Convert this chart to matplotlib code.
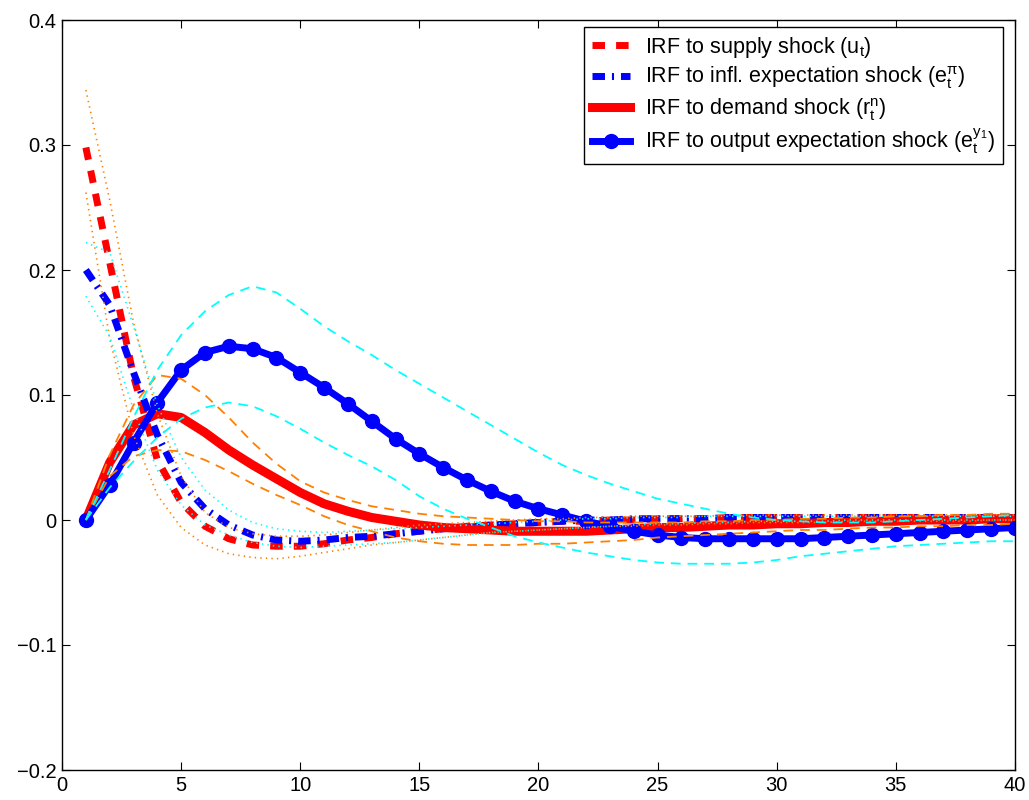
import numpy as np
import matplotlib
matplotlib.use("Agg")
import matplotlib.pyplot as plt

# -----------------------------
# Data
# -----------------------------
periods = np.arange(1, 41)

supply = [0.298, 0.206, 0.115, 0.048, 0.014, -0.005, -0.015, -0.020, -0.021, -0.021,
          -0.019, -0.016, -0.014, -0.011, -0.009, -0.007, -0.005, -0.004, -0.003, -0.002,
          -0.001, -0.001, 0.000, 0.000, 0.001, 0.001, 0.001, 0.002, 0.002, 0.002,
          0.002, 0.002, 0.002, 0.002, 0.002, 0.002, 0.002, 0.002, 0.002, 0.002]
supply_hi = [0.344, 0.256, 0.158, 0.085, 0.035, 0.006, -0.006, -0.011, -0.013, -0.013,
             -0.012, -0.010, -0.008, -0.006, -0.004, -0.003, -0.002, -0.001, 0.000, 0.001,
             0.001, 0.002, 0.002, 0.003, 0.003, 0.003, 0.003, 0.004, 0.004, 0.004,
             0.004, 0.004, 0.004, 0.004, 0.004, 0.004, 0.004, 0.004, 0.004, 0.004]
supply_lo = [0.262, 0.145, 0.068, 0.020, -0.006, -0.020, -0.027, -0.030, -0.031, -0.029,
             -0.026, -0.023, -0.020, -0.018, -0.016, -0.014, -0.012, -0.010, -0.009, -0.008,
             -0.007, -0.006, -0.005, -0.005, -0.004, -0.004, -0.003, -0.003, -0.002, -0.002,
             -0.002, -0.002, -0.001, -0.001, -0.001, -0.001, -0.001, -0.001, 0.000, 0.000]

infl = [0.200, 0.172, 0.118, 0.068, 0.030, 0.009, -0.004, -0.012, -0.016, -0.017,
        -0.016, -0.014, -0.013, -0.011, -0.009, -0.007, -0.006, -0.004, -0.003, -0.002,
        -0.001, 0.000, 0.000, 0.001, 0.001, 0.001, 0.001, 0.002, 0.002, 0.002,
        0.002, 0.002, 0.002, 0.002, 0.002, 0.002, 0.002, 0.002, 0.002, 0.002]
infl_hi = [0.222, 0.214, 0.155, 0.092, 0.050, 0.024, 0.008, -0.002, -0.007, -0.009,
           -0.010, -0.009, -0.008, -0.007, -0.006, -0.005, -0.004, -0.003, -0.002, -0.001,
           0.000, 0.001, 0.001, 0.002, 0.002, 0.002, 0.003, 0.003, 0.003, 0.003,
           0.003, 0.003, 0.003, 0.003, 0.003, 0.003, 0.003, 0.003, 0.003, 0.003]
infl_lo = [0.179, 0.147, 0.088, 0.040, 0.012, -0.004, -0.012, -0.018, -0.021, -0.022,
           -0.021, -0.020, -0.019, -0.018, -0.016, -0.014, -0.012, -0.010, -0.009, -0.008,
           -0.007, -0.006, -0.005, -0.004, -0.003, -0.003, -0.002, -0.002, -0.001, -0.001,
           -0.001, -0.001, 0.000, 0.000, 0.000, 0.000, 0.000, 0.000, 0.000, 0.000]

demand = [0.000, 0.046, 0.076, 0.085, 0.082, 0.070, 0.056, 0.044, 0.033, 0.022,
          0.013, 0.007, 0.002, -0.001, -0.004, -0.006, -0.007, -0.008, -0.009, -0.009,
          -0.009, -0.009, -0.008, -0.007, -0.006, -0.006, -0.005, -0.004, -0.004, -0.003,
          -0.003, -0.002, -0.002, -0.001, -0.001, 0.000, 0.000, 0.000, 0.001, 0.001]
demand_hi = [0.000, 0.052, 0.092, 0.116, 0.113, 0.100, 0.082, 0.062, 0.045, 0.031,
             0.022, 0.016, 0.011, 0.008, 0.005, 0.003, 0.002, 0.001, 0.000, -0.001,
             -0.001, -0.002, -0.002, -0.002, -0.002, -0.002, -0.001, -0.001, 0.000, 0.000,
             0.001, 0.001, 0.002, 0.002, 0.003, 0.003, 0.004, 0.004, 0.005, 0.005]
demand_lo = [0.000, 0.035, 0.051, 0.056, 0.055, 0.048, 0.039, 0.029, 0.020, 0.012,
             0.003, -0.004, -0.009, -0.014, -0.017, -0.019, -0.020, -0.020, -0.020, -0.019,
             -0.019, -0.018, -0.017, -0.016, -0.014, -0.013, -0.012, -0.011, -0.010, -0.009,
             -0.008, -0.008, -0.007, -0.006, -0.006, -0.005, -0.005, -0.004, -0.004, -0.003]

output = [0.000, 0.028, 0.062, 0.094, 0.120, 0.134, 0.139, 0.137, 0.130, 0.118,
          0.106, 0.093, 0.079, 0.065, 0.053, 0.042, 0.032, 0.023, 0.015, 0.009,
          0.004, -0.001, -0.005, -0.009, -0.012, -0.014, -0.015, -0.015, -0.015, -0.015,
          -0.015, -0.014, -0.013, -0.012, -0.011, -0.010, -0.009, -0.008, -0.007, -0.006]
output_hi = [0.000, 0.040, 0.082, 0.120, 0.148, 0.167, 0.180, 0.187, 0.182, 0.169,
             0.155, 0.143, 0.132, 0.120, 0.109, 0.098, 0.087, 0.076, 0.065, 0.054,
             0.044, 0.036, 0.029, 0.023, 0.017, 0.013, 0.009, 0.005, 0.002, 0.000,
             -0.001, -0.002, -0.002, -0.002, -0.001, 0.000, 0.001, 0.002, 0.003, 0.004]
output_lo = [0.000, 0.026, 0.047, 0.066, 0.081, 0.090, 0.094, 0.091, 0.083, 0.073,
             0.062, 0.052, 0.043, 0.032, 0.019, 0.009, 0.001, -0.006, -0.013, -0.018,
             -0.022, -0.026, -0.029, -0.032, -0.034, -0.035, -0.035, -0.035, -0.034, -0.032,
             -0.029, -0.027, -0.025, -0.023, -0.021, -0.020, -0.019, -0.018, -0.017, -0.017]

labels = [r"IRF to supply shock ($u_t$)",
          r"IRF to infl. expectation shock ($e_t^{\pi}$)",
          r"IRF to demand shock ($r_t^n$)",
          r"IRF to output expectation shock ($e_t^{y_1}$)"]

x_ticks = [0, 5, 10, 15, 20, 25, 30, 35, 40]
y_ticks = [-0.2, -0.1, 0, 0.1, 0.2, 0.3, 0.4]
y_tick_labels = ["\u22120.2", "\u22120.1", "0", "0.1", "0.2", "0.3", "0.4"]

# -----------------------------
# Style
# -----------------------------
plt.rcParams['font.family'] = ['Liberation Sans', 'DejaVu Sans']
plt.rcParams['mathtext.fontset'] = 'custom'
plt.rcParams['mathtext.rm'] = 'Liberation Sans'
plt.rcParams['mathtext.it'] = 'Liberation Sans'
plt.rcParams['mathtext.default'] = 'regular'
plt.rcParams['lines.scale_dashes'] = False

RED = '#ff0000'
BLUE = '#0000ff'
CYAN = '#00ffff'
ORANGE = '#ff8000'

fig = plt.figure(figsize=(10.29, 8), dpi=100)
ax = fig.add_axes([0.0603, 0.0375, 0.926, 0.9375])

# main IRFs
ax.plot(periods, supply, color=RED, lw=5, dashes=(9, 8), label=labels[0])
ax.plot(periods, infl, color=BLUE, lw=5, dashes=(9, 5, 1.5, 5), label=labels[1])
ax.plot(periods, demand, color=RED, lw=6.5, label=labels[2])
ax.plot(periods, output, color=BLUE, lw=5, marker='o', markersize=10,
        label=labels[3])

# confidence bands
ax.plot(periods, supply_hi, color=ORANGE, lw=1.2, dashes=(1, 3))
ax.plot(periods, supply_lo, color=ORANGE, lw=1.2, dashes=(1, 3))
ax.plot(periods, infl_hi, color=CYAN, lw=1.2, dashes=(1, 3))
ax.plot(periods, infl_lo, color=CYAN, lw=1.2, dashes=(1, 3))
ax.plot(periods, demand_hi, color=ORANGE, lw=1.3, dashes=(7, 5))
ax.plot(periods, demand_lo, color=ORANGE, lw=1.3, dashes=(7, 5))
ax.plot(periods, output_hi, color=CYAN, lw=1.3, dashes=(7, 5))
ax.plot(periods, output_lo, color=CYAN, lw=1.3, dashes=(7, 5))

ax.set_xlim(0, 40)
ax.set_ylim(-0.2, 0.4)
ax.set_xticks(x_ticks)
ax.set_yticks(y_ticks)
ax.set_yticklabels(y_tick_labels)
ax.tick_params(direction='in', length=6, width=0.8, top=True, right=True,
               labelsize=14.5, pad=4)
for s in ax.spines.values():
    s.set_linewidth(1.0)

leg = ax.legend(loc='upper right', bbox_to_anchor=(0.9874, 0.9907),
                borderaxespad=0, fontsize=15.5, handlelength=1.8,
                labelspacing=0.22, fancybox=False, framealpha=1,
                edgecolor='black', borderpad=0.35, handletextpad=0.7)
leg.get_frame().set_linewidth(1.0)

fig.savefig("out.png", dpi=100)
